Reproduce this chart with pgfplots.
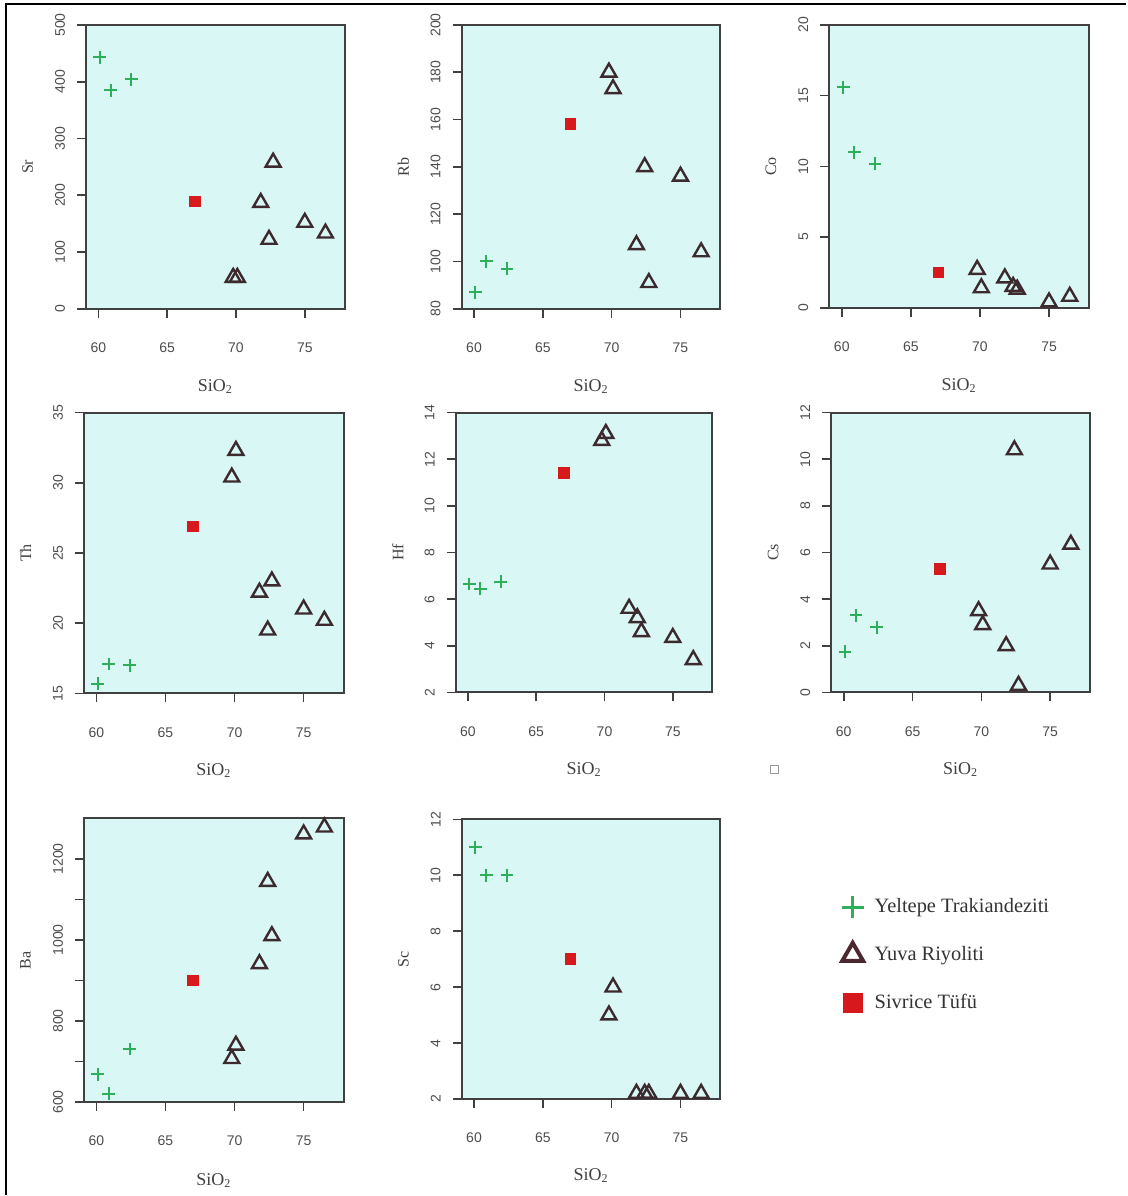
\documentclass[border=0pt]{standalone}
\usepackage{pgfplots}
\pgfplotsset{compat=1.18}
\usepackage{pgfplotstable}
\usepackage{fontspec}
\setmainfont{Liberation Serif}
\newfontfamily\sansf{Liberation Sans}
\definecolor{bgc}{RGB}{216,247,245}
\definecolor{gplus}{RGB}{45,175,90}
\definecolor{redc}{RGB}{215,25,30}
\definecolor{tri}{RGB}{60,42,46}
\definecolor{trileg}{RGB}{75,40,48}

% Yeltepe Trakiandeziti
\pgfplotstableread{
x Sr Rb Co Th Hf Cs Ba Sc
60.1 443 87 15.6 15.7 6.65 1.75 669 11.0
60.9 385 100 11.0 17.1 6.45 3.3 621 10.0
62.4 404 97 10.2 17.0 6.75 2.8 731 10.0
}\yeltepe
% Yuva Riyoliti
\pgfplotstableread{
x Sr Rb Co Th Hf Cs Ba Sc
69.8 55 180 2.7 30.4 12.8 3.5 707 5.0
70.1 55 173 1.4 32.3 13.1 2.9 740 6.0
71.8 187 107 2.1 22.2 5.6 2.0 941 2.2
72.4 122 140 1.5 19.5 5.2 10.4 1144 2.2
72.7 258 91 1.3 23.0 4.6 0.3 1010 2.2
75.0 152 136 0.4 21.0 4.35 5.5 1261 2.2
76.5 133 104 0.8 20.2 3.4 6.35 1278 2.2
}\yuva
% Sivrice Tufu
\pgfplotstableread{
x Sr Rb Co Th Hf Cs Ba Sc
67.0 189 158 2.5 26.9 11.4 5.3 900 7.0
}\sivrice

\pgfplotsset{
  panel/.style={
    scale only axis, anchor=south west,
    xmin=59.1, xmax=77.9, xtick={60,65,70,75},
    tick align=outside, tick pos=left,
    major tick length=4.5pt, minor tick length=4.5pt,
    axis line style={black!75, line width=1pt},
    tick style={black!75, line width=0.8pt},
    axis background/.style={fill=bgc},
    /pgf/number format/assume math mode=true,
    /pgf/number format/1000 sep={},
    ticklabel style={font=\sansf\fontsize{7}{8}\selectfont, text=black!70},
    xticklabel style={anchor=center, yshift=-15pt},
    yticklabel style={xshift=-8.5pt, rotate=90, anchor=center},
    xlabel={SiO\textsubscript{2}},
    xlabel style={at={(axis description cs:0.5,-0.275)}, anchor=center, font=\fontsize{9}{10}\selectfont, text=black!75},
    ylabel style={at={(axis description cs:-0.225,0.5)}, anchor=center, font=\fontsize{8}{9}\selectfont, text=black!75},
  },
  yel/.style={only marks, mark=+, mark size=3.2pt, color=gplus, mark options={line width=1pt}},
  yuv/.style={only marks, mark=triangle, mark size=4.3pt, color=tri, mark options={line width=1.2pt}},
  siv/.style={only marks, mark=square*, mark size=2.7pt, color=redc},
}

\begin{document}
\begin{tikzpicture}
% global frame + legend
\begin{axis}[at={(0,0)}, anchor=south west, scale only axis, width=563.5pt, height=598pt,
  xmin=0, xmax=1127, ymin=0, ymax=1196, y dir=reverse, hide axis, clip=false,
  legend style={draw=none, fill=none, at={(axis cs:836,891)}, anchor=north west,
    font=\fontsize{10.2}{12}\selectfont, row sep=11.25pt, column sep=3.5pt, text=black!80},
  legend cell align=left]
\addlegendimage{only marks, mark=+, mark size=5.5pt, color=gplus, mark options={line width=1.6pt}}
\addlegendentry{Yeltepe Trakiandeziti}
\addlegendimage{only marks, mark=triangle, mark size=6pt, color=trileg, mark options={line width=2pt}}
\addlegendentry{Yuva Riyoliti}
\addlegendimage{only marks, mark=square*, mark size=4.8pt, color=redc}
\addlegendentry{Sivrice Tüfü}
\path (axis cs:0,0) rectangle (axis cs:1127,1196);
\draw[line width=1pt] (axis cs:6,1196) -- (axis cs:6,4) -- (axis cs:1127,4);
\node[draw=black!40, line width=0.4pt, minimum size=4pt, inner sep=0pt] at (axis cs:775,770) {};
\end{axis}

% Sr
\begin{axis}[panel, at={(43pt,443.5pt)}, width=129.5pt, height=142pt,
  ymin=0, ymax=500, ytick={0,100,...,500}, ylabel={Sr}]
\addplot[yel] table[x=x,y=Sr]{\yeltepe};
\addplot[yuv] table[x=x,y=Sr]{\yuva};
\addplot[siv] table[x=x,y=Sr]{\sivrice};
\end{axis}
% Rb
\begin{axis}[panel, at={(231pt,443.5pt)}, width=129.5pt, height=142pt,
  ymin=80, ymax=200, ytick={80,100,...,200}, ylabel={Rb}]
\addplot[yel] table[x=x,y=Rb]{\yeltepe};
\addplot[yuv] table[x=x,y=Rb]{\yuva};
\addplot[siv] table[x=x,y=Rb]{\sivrice};
\end{axis}
% Co
\begin{axis}[panel, at={(415pt,444pt)}, width=130pt, height=141.5pt,
  ymin=0, ymax=20, ytick={0,5,...,20}, ylabel={Co}]
\addplot[yel] table[x=x,y=Co]{\yeltepe};
\addplot[yuv] table[x=x,y=Co]{\yuva};
\addplot[siv] table[x=x,y=Co]{\sivrice};
\end{axis}
% Th
\begin{axis}[panel, at={(42pt,251pt)}, width=130pt, height=140.5pt,
  ymin=15, ymax=35, ytick={15,20,...,35}, ylabel={Th}]
\addplot[yel] table[x=x,y=Th]{\yeltepe};
\addplot[yuv] table[x=x,y=Th]{\yuva};
\addplot[siv] table[x=x,y=Th]{\sivrice};
\end{axis}
% Hf
\begin{axis}[panel, at={(228pt,251.5pt)}, width=128.5pt, height=140pt,
  ymin=2, ymax=14, ytick={2,4,...,14}, ylabel={Hf}]
\addplot[yel] table[x=x,y=Hf]{\yeltepe};
\addplot[yuv] table[x=x,y=Hf]{\yuva};
\addplot[siv] table[x=x,y=Hf]{\sivrice};
\end{axis}
% Cs
\begin{axis}[panel, at={(416pt,251.5pt)}, width=129.5pt, height=140pt,
  ymin=0, ymax=12, ytick={0,2,...,12}, ylabel={Cs}]
\addplot[yel] table[x=x,y=Cs]{\yeltepe};
\addplot[yuv] table[x=x,y=Cs]{\yuva};
\addplot[siv] table[x=x,y=Cs]{\sivrice};
\end{axis}
% Ba
\begin{axis}[panel, at={(42pt,46.5pt)}, width=130pt, height=142pt,
  ymin=600, ymax=1300, ytick={600,800,1000,1200}, minor ytick={700,900,1100}, ylabel={Ba}]
\addplot[yel] table[x=x,y=Ba]{\yeltepe};
\addplot[yuv] table[x=x,y=Ba]{\yuva};
\addplot[siv] table[x=x,y=Ba]{\sivrice};
\end{axis}
% Sc
\begin{axis}[panel, at={(231pt,48pt)}, width=129.5pt, height=140pt,
  ymin=2, ymax=12, ytick={2,4,...,12}, ylabel={Sc}]
\addplot[yel] table[x=x,y=Sc]{\yeltepe};
\addplot[yuv] table[x=x,y=Sc]{\yuva};
\addplot[siv] table[x=x,y=Sc]{\sivrice};
\end{axis}
\end{tikzpicture}
\end{document}
